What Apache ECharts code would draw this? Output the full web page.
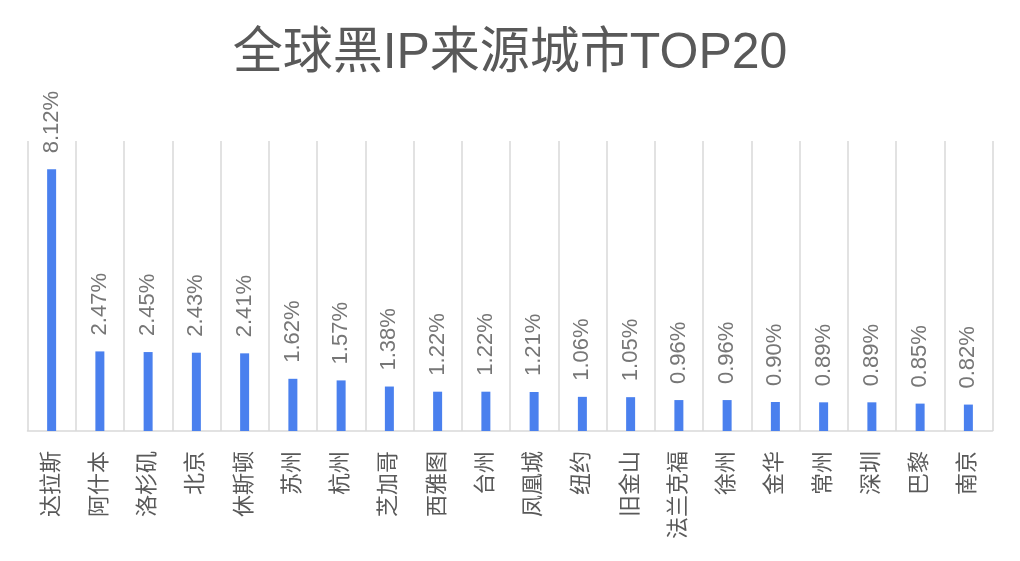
<!DOCTYPE html>
<html>
<head>
<meta charset="utf-8">
<script src="https://cdn.jsdelivr.net/npm/echarts@6/dist/echarts.min.js"></script>
<style>html,body{margin:0;padding:0;background:#fff;}#c{width:1020px;height:561px;}</style>
</head>
<body>
<div id="c"></div>
<script>
var titleText = '全球黑IP来源城市TOP20';
var cities = ['达拉斯','阿什本','洛杉矶','北京','休斯顿','苏州','杭州','芝加哥','西雅图','台州','凤凰城','纽约','旧金山','法兰克福','徐州','金华','常州','深圳','巴黎','南京'];
var shares = [8.12,2.47,2.45,2.43,2.41,1.62,1.57,1.38,1.22,1.22,1.21,1.06,1.05,0.96,0.96,0.90,0.89,0.89,0.85,0.82];

var FONT = '"Liberation Sans", "Noto Sans CJK SC", sans-serif';
var chart = echarts.init(document.getElementById('c'));
chart.setOption({
  animation: false,
  backgroundColor: '#fff',
  title: {
    text: titleText,
    left: 'center',
    top: 24,
    textStyle: { fontSize: 50, fontWeight: 'normal', color: '#595959', fontFamily: FONT }
  },
  grid: { left: 27.5, right: 27.5, top: 141, bottom: 130 },
  xAxis: {
    type: 'category',
    data: cities,
    boundaryGap: true,
    axisLine: { show: true, lineStyle: { color: '#d9d9d9', width: 1.5 } },
    axisTick: { show: false },
    splitLine: { show: true, lineStyle: { color: '#d9d9d9', width: 1.5 } },
    axisLabel: {
      interval: 0, rotate: 90, margin: 20,
      fontSize: 22, color: '#595959', fontFamily: FONT
    }
  },
  yAxis: {
    type: 'value', min: 0, max: 9, show: false,
    splitLine: { show: false }
  },
  series: [{
    type: 'bar',
    data: shares,
    barWidth: 9,
    itemStyle: { color: '#4a80ee' },
    label: {
      show: true,
      position: 'top',
      rotate: 90,
      align: 'left',
      verticalAlign: 'middle',
      distance: 16,
      fontSize: 22,
      color: '#767676',
      fontFamily: FONT,
      formatter: function (p) { return p.value.toFixed(2) + '%'; }
    }
  }]
});
</script>
</body>
</html>
